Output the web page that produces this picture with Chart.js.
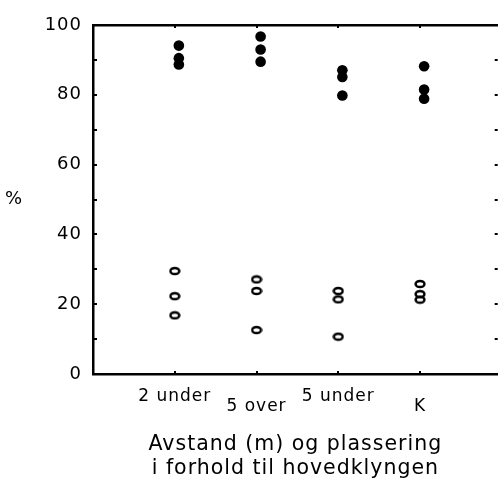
<!DOCTYPE html>
<html>
<head>
<meta charset="utf-8">
<script src="https://cdn.jsdelivr.net/npm/chart.js@4"></script>
<style>
  body { margin: 0; background: #fff; }
</style>
</head>
<body>
<canvas id="chart" width="503" height="481"></canvas>
<script>
// kategorier og verdier lest av figuren
var categories = ['2 under', '5 over', '5 under', 'K'];
var filledValues = [
  [94.1, 90.5, 88.7],
  [96.7, 93.0, 89.5],
  [87.0, 85.1, 79.8],
  [88.2, 81.5, 78.9]
];
var openValues = [
  [29.5, 22.3, 16.8],
  [27.1, 23.8, 12.6],
  [23.8, 21.4, 10.7],
  [25.8, 22.9, 21.3]
];
var yTicks = [0, 20, 40, 60, 80, 100];
var xTitle = ['Avstand (m) og plassering', 'i forhold til hovedklyngen'];
var yTitle = '%';

var FONT = 'DejaVu Sans';
Chart.defaults.font.family = FONT;
Chart.defaults.color = '#000';

function toPoints(values, shift) {
  var pts = [];
  values.forEach(function(group, i) {
    group.forEach(function(v) { pts.push({ x: i + 1 + shift, y: v }); });
  });
  return pts;
}

// åpen ring, litt flattrykt som i originalen
var ring = document.createElement('canvas');
ring.width = 12;
ring.height = 10;
var rc = ring.getContext('2d');
rc.lineWidth = 2.5;
rc.strokeStyle = '#000';
rc.beginPath();
rc.ellipse(6, 5, 4.4, 3.1, 0, 0, Math.PI * 2);
rc.stroke();

// små innvendige streker + %-tegnet (står oppreist)
var frame = {
  id: 'frame',
  beforeDraw: function(chart) { chart.ctx.letterSpacing = '1px'; },
  afterDraw: function(chart) {
    var ctx = chart.ctx, a = chart.chartArea;
    var x = chart.scales.x, y = chart.scales.y;
    ctx.save();
    ctx.strokeStyle = '#000';
    ctx.lineWidth = 2;
    for (var v = 10; v < 100; v += 10) {
      var py = Math.round(y.getPixelForValue(v));
      ctx.beginPath(); ctx.moveTo(a.left, py); ctx.lineTo(a.left + 4, py); ctx.stroke();
      ctx.beginPath(); ctx.moveTo(a.right - 3, py); ctx.lineTo(a.right, py); ctx.stroke();
    }
    categories.forEach(function(c, i) {
      var px = Math.round(x.getPixelForValue(i + 1));
      ctx.beginPath(); ctx.moveTo(px, a.bottom); ctx.lineTo(px, a.bottom - 3); ctx.stroke();
      ctx.beginPath(); ctx.moveTo(px, a.top); ctx.lineTo(px, a.top + 3); ctx.stroke();
    });
    ctx.fillStyle = '#000';
    ctx.font = '18px ' + FONT;
    ctx.textAlign = 'center';
    ctx.textBaseline = 'middle';
    ctx.fillText(yTitle, 14, (a.top + a.bottom) / 2);
    ctx.restore();
  }
};

var ctx = document.getElementById('chart').getContext('2d');
var chart = new Chart(ctx, {
  type: 'scatter',
  data: {
    datasets: [{
      data: toPoints(filledValues, 0.05),
      pointStyle: 'circle',
      pointRadius: 5.3,
      backgroundColor: '#000',
      borderColor: '#000',
      borderWidth: 0
    }, {
      data: toPoints(openValues, 0),
      pointStyle: ring,
      backgroundColor: '#000',
      borderColor: '#000'
    }]
  },
  options: {
    responsive: false,
    animation: false,
    layout: { padding: 0 },
    plugins: { legend: { display: false }, tooltip: { enabled: false } },
    scales: {
      x: {
        type: 'linear',
        position: 'bottom',
        min: 0,
        max: 4.95,
        afterBuildTicks: function(s) { s.ticks = categories.map(function(c, i) { return { value: i + 1 }; }); },
        afterFit: function(s) { s.height = 107; },
        grid: { display: false, drawTicks: false },
        border: { display: true, color: '#000', width: 2.5 },
        ticks: {
          autoSkip: false,
          maxRotation: 0,
          padding: 12,
          color: '#000',
          callback: function(v) { return categories[v - 1]; },
          font: function(c) {
            var low = c.tick && c.tick.value % 2 === 0;
            return { family: FONT, size: 17, lineHeight: low ? 2.45 : 1.2 };
          }
        },
        title: {
          display: true,
          text: xTitle,
          color: '#000',
          padding: 0,
          font: { family: FONT, size: 20.5, lineHeight: 1.18 }
        }
      },
      xTop: {
        type: 'linear',
        position: 'top',
        min: 0,
        max: 4.95,
        afterFit: function(s) { s.height = 25; },
        grid: { display: false, drawTicks: false },
        border: { display: true, color: '#000', width: 2.5 },
        ticks: { display: false }
      },
      y: {
        position: 'left',
        min: 0,
        max: 100,
        afterBuildTicks: function(s) { s.ticks = yTicks.map(function(v) { return { value: v }; }); },
        afterFit: function(s) { s.width = 93; },
        grid: { display: false, drawTicks: false },
        border: { display: true, color: '#000', width: 2.5 },
        ticks: { padding: 11, color: '#000', font: { family: FONT, size: 18 } }
      }
    }
  },
  plugins: [frame]
});
</script>
</body>
</html>
